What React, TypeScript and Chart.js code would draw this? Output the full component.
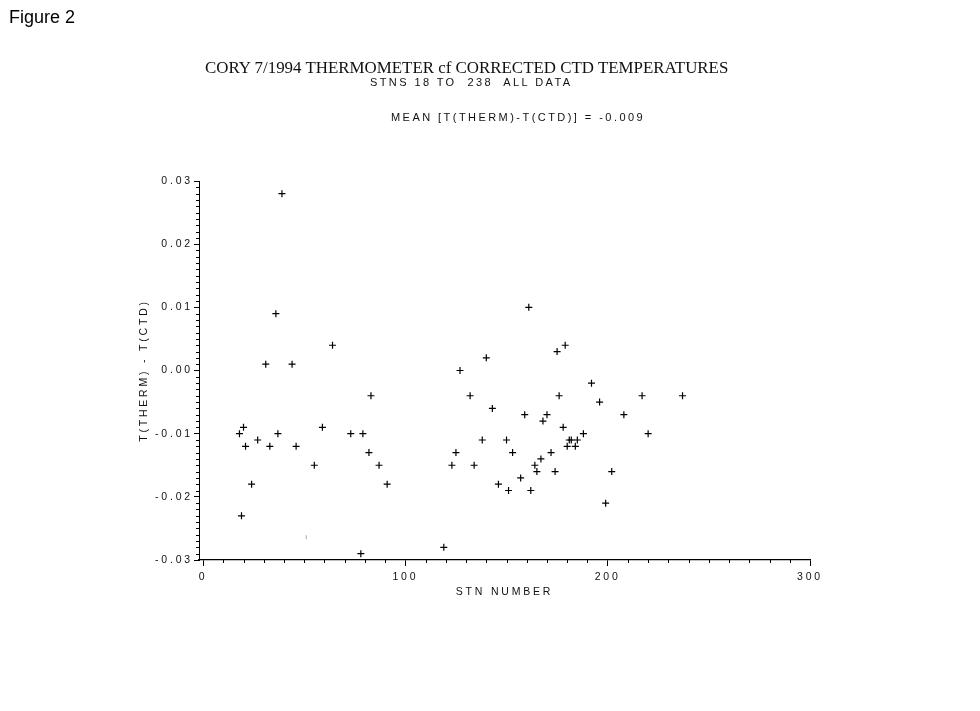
import React, { useEffect, useRef } from "react";
import { Chart, registerables } from "chart.js";

Chart.register(...registerables);

// Station numbers and T(THERM) - T(CTD) differences
const stations = [
  18, 19, 20, 21, 24, 27, 31, 33, 36, 37, 39, 44, 46, 55, 59, 64, 73, 78, 79, 82,
  83, 87, 91, 119, 123, 125, 127, 132, 134, 138, 140, 143, 146, 150, 151, 153, 157, 159, 161, 162,
  164, 165, 167, 168, 170, 172, 174, 175, 176, 178, 179, 180, 181, 182, 184, 185, 188, 192, 196, 199,
  202, 208, 217, 220, 237,
];
const diffs = [
  -0.010, -0.023, -0.009, -0.012, -0.018, -0.011, 0.001, -0.012, 0.009, -0.010, 0.028, 0.001, -0.012, -0.015, -0.009, 0.004, -0.010, -0.029, -0.010, -0.013,
  -0.004, -0.015, -0.018, -0.028, -0.015, -0.013, 0.000, -0.004, -0.015, -0.011, 0.002, -0.006, -0.018, -0.011, -0.019, -0.013, -0.017, -0.007, 0.010, -0.019,
  -0.015, -0.016, -0.014, -0.008, -0.007, -0.013, -0.016, 0.003, -0.004, -0.009, 0.004, -0.012, -0.011, -0.011, -0.012, -0.011, -0.010, -0.002, -0.005, -0.021,
  -0.016, -0.007, -0.004, -0.010, -0.004,
];
// faint (barely printed) point
const faintStations = [51];
const faintDiffs = [-0.0264];

const xTicks = [0, 100, 200, 300];
const xTickLabels = ["0", "100", "200", "300"];
const yTicks = [-0.03, -0.02, -0.01, 0, 0.01, 0.02, 0.03];
const yTickLabels = ["-0.03", "-0.02", "-0.01", "0.00", "0.01", "0.02", "0.03"];
const xMinorStep = 10;
const yMinorStep = 0.001;

const FONT = "'Liberation Sans', Arial, sans-serif";

const spacingPlugin = {
  id: "spacing",
  beforeLayout(chart: any) {
    chart.ctx.letterSpacing = "2.8px";
  },
  beforeDraw(chart: any) {
    chart.ctx.letterSpacing = "2.8px";
  },
};

const minorTicksPlugin = {
  id: "minorTicks",
  afterDraw(chart: any) {
    const ctx = chart.ctx;
    const xs = chart.scales.x;
    const ys = chart.scales.y;
    ctx.save();
    ctx.strokeStyle = "#000";
    ctx.lineWidth = 1;
    ctx.beginPath();
    const nx = Math.round((xs.max - 0) / xMinorStep);
    for (let i = 0; i <= nx; i++) {
      const v = i * xMinorStep;
      if (xTicks.includes(v)) continue;
      const px = Math.round(xs.getPixelForValue(v)) + 0.5;
      ctx.moveTo(px, xs.top);
      ctx.lineTo(px, xs.top + 3);
    }
    const ny = Math.round((ys.max - ys.min) / yMinorStep);
    for (let i = 0; i <= ny; i++) {
      const v = ys.min + i * yMinorStep;
      if (i % 10 === 0) continue;
      const py = Math.round(ys.getPixelForValue(v)) + 0.5;
      ctx.moveTo(ys.right - 3, py);
      ctx.lineTo(ys.right + 1, py);
    }
    ctx.stroke();
    ctx.restore();
  },
};

export default function App() {
  const ref = useRef<HTMLCanvasElement | null>(null);

  useEffect(() => {
    if (!ref.current) return;
    const chart = new Chart(ref.current, {
      type: "scatter",
      data: {
        datasets: [
          {
            data: stations.map((x, i) => ({ x, y: diffs[i] })),
            pointStyle: "cross",
            radius: 3.5,
            borderColor: "#000",
            backgroundColor: "#000",
            borderWidth: 1.2,
          },
          {
            data: faintStations.map((x, i) => ({ x, y: faintDiffs[i] })),
            pointStyle: "line",
            rotation: 90,
            radius: 2,
            borderColor: "#aaa",
            backgroundColor: "#aaa",
            borderWidth: 1,
          },
        ],
      },
      options: {
        responsive: false,
        animation: false,
        events: [],
        layout: { padding: { left: 138, top: 181, right: 170, bottom: 113 } },
        plugins: { legend: { display: false }, tooltip: { enabled: false } },
        scales: {
          x: {
            type: "linear",
            min: -2,
            max: 300,
            afterBuildTicks: (s: any) => {
              s.ticks = xTicks.map((v) => ({ value: v }));
            },
            afterFit: (s: any) => {
              s.height = 38;
            },
            grid: { drawOnChartArea: false, drawTicks: true, tickLength: 6, color: "#000", tickColor: "#000" },
            border: { color: "#000", width: 1.3 },
            ticks: {
              color: "#111",
              font: { family: FONT, size: 10.5 },
              padding: 5,
              maxRotation: 0,
              autoSkip: false,
              callback: (v: any) => {
                const i = xTicks.indexOf(Number(v));
                return i >= 0 ? xTickLabels[i] : "";
              },
            },
            title: { display: true, text: "STN NUMBER", color: "#111", font: { family: FONT, size: 10.5 }, padding: 0 },
          },
          y: {
            type: "linear",
            min: -0.03,
            max: 0.03,
            afterBuildTicks: (s: any) => {
              s.ticks = yTicks.map((v) => ({ value: v }));
            },
            afterFit: (s: any) => {
              s.width = 61;
            },
            grid: { drawOnChartArea: false, drawTicks: true, tickLength: 5, color: "#000", tickColor: "#000" },
            border: { color: "#000", width: 1 },
            ticks: {
              color: "#111",
              font: { family: FONT, size: 10.5 },
              padding: 1,
              autoSkip: false,
              callback: (v: any) => {
                let best = 0;
                yTicks.forEach((t, i) => {
                  if (Math.abs(t - Number(v)) < Math.abs(yTicks[best] - Number(v))) best = i;
                });
                return yTickLabels[best];
              },
            },
            title: { display: true, text: "T(THERM) - T(CTD)", color: "#111", font: { family: FONT, size: 10.5 }, padding: 0 },
          },
        },
      },
      plugins: [spacingPlugin, minorTicksPlugin],
    } as any);
    return () => chart.destroy();
  }, []);

  const base: React.CSSProperties = { position: "absolute", whiteSpace: "pre", margin: 0, color: "#111" };

  return (
    <div style={{ position: "absolute", left: 0, top: 0, width: 980, height: 711, background: "#fff", overflow: "hidden" }}>
      <canvas ref={ref} width={980} height={711} style={{ position: "absolute", left: 0, top: 0, display: "block" }} />
      <div style={{ ...base, left: 9, top: 8, fontFamily: FONT, fontSize: 18, lineHeight: "18px", color: "#000" }}>Figure 2</div>
      <div style={{ ...base, left: 205, top: 60, fontFamily: "'Liberation Serif', 'Times New Roman', serif", fontSize: 16.9, lineHeight: "16.9px" }}>
        CORY 7/1994 THERMOMETER cf CORRECTED CTD TEMPERATURES
      </div>
      <div style={{ ...base, left: 370, top: 77, fontFamily: FONT, fontSize: 11, lineHeight: "11px", letterSpacing: "2.4px" }}>
        {"STNS 18 TO  238  ALL DATA"}
      </div>
      <div style={{ ...base, left: 391, top: 112, fontFamily: FONT, fontSize: 11, lineHeight: "11px", letterSpacing: "2.45px" }}>
        {"MEAN [T(THERM)-T(CTD)] = -0.009"}
      </div>
    </div>
  );
}
